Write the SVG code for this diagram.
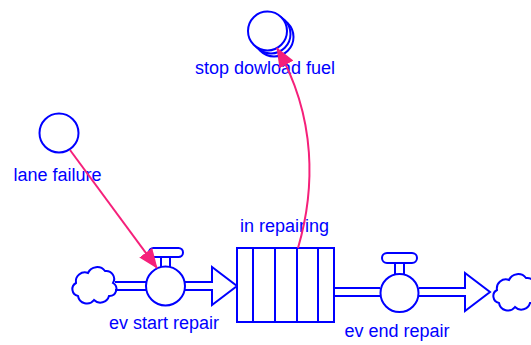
<svg xmlns="http://www.w3.org/2000/svg" width="531" height="345" viewBox="0 0 531 345">
<style>
.s{fill:#fff;stroke:#0000ff;stroke-width:2}
.n{fill:none;stroke:#0000ff;stroke-width:2}
.t{font-family:"Liberation Sans",Arial,sans-serif;font-size:18px;fill:#0000ff;text-anchor:middle}
.l{fill:none;stroke:#f5207a;stroke-width:2}
</style>
<defs>
<marker id="ah" markerWidth="20" markerHeight="16" refX="19" refY="8" orient="auto" markerUnits="userSpaceOnUse">
<path d="M0,0 L20,8 L0,16 z" fill="#f5207a"/>
</marker>
<path id="cloud" d="M78,296 a7,7 0 0 1 -2,-13 a9,9 0 0 1 12,-10 a10,10 0 0 1 17,-2 a8,8 0 0 1 8,12 a7,7 0 0 1 -4,13 a9,9 0 0 1 -15,4 a9,9 0 0 1 -16,-4 z"/>
</defs>
<rect width="531" height="345" fill="#fff"/>
<g id="lane-failure">
<circle class="s" cx="59" cy="133" r="19.5"/>
<text class="t" x="57.5" y="181">lane failure</text>
</g>
<g id="stop-dowload-fuel">
<circle class="s" cx="274" cy="37" r="19.5"/>
<circle class="s" cx="271" cy="34" r="19.5"/>
<circle class="s" cx="267.5" cy="31" r="19.5"/>
<text class="t" x="265" y="74">stop dowload fuel</text>
</g>
<g id="source-cloud">
<use href="#cloud" class="s"/>
</g>
<g id="ev-start-repair">
<path class="n" d="M115,282 H146 M115,290 H146"/>
<path class="s" d="M185,282 H212 V267 L237,286 L212,305 V290 H185"/>
<path class="n" d="M161,257 V267 M170,257 V267"/>
<rect class="s" x="149" y="248" width="34" height="9" rx="4.5"/>
<circle class="s" cx="165.5" cy="286" r="19.5"/>
<text class="t" x="164" y="329">ev start repair</text>
</g>
<g id="in-repairing">
<rect class="s" x="237" y="248" width="97" height="74"/>
<path class="n" d="M253,248 V322 M275,248 V322 M297,248 V322 M318,248 V322"/>
<text class="t" x="284.5" y="232">in repairing</text>
</g>
<g id="ev-end-repair">
<path class="n" d="M334,288 H380 M334,296 H380"/>
<path class="s" d="M419,288 H465 V273 L490,292 L465,311 V296 H419"/>
<path class="n" d="M395,263 V274 M404,263 V274"/>
<rect class="s" x="382" y="253" width="35" height="10" rx="5"/>
<circle class="s" cx="399.5" cy="293" r="19"/>
<text class="t" x="397" y="337">ev end repair</text>
</g>
<g id="sink-cloud">
<use href="#cloud" class="s" transform="translate(421,7)"/>
</g>
<g id="connectors">
<path class="l" d="M70,150 L157,268" marker-end="url(#ah)"/>
<path class="l" d="M298,248 C315,190 317,118 277,48" marker-end="url(#ah)"/>
</g>
</svg>
